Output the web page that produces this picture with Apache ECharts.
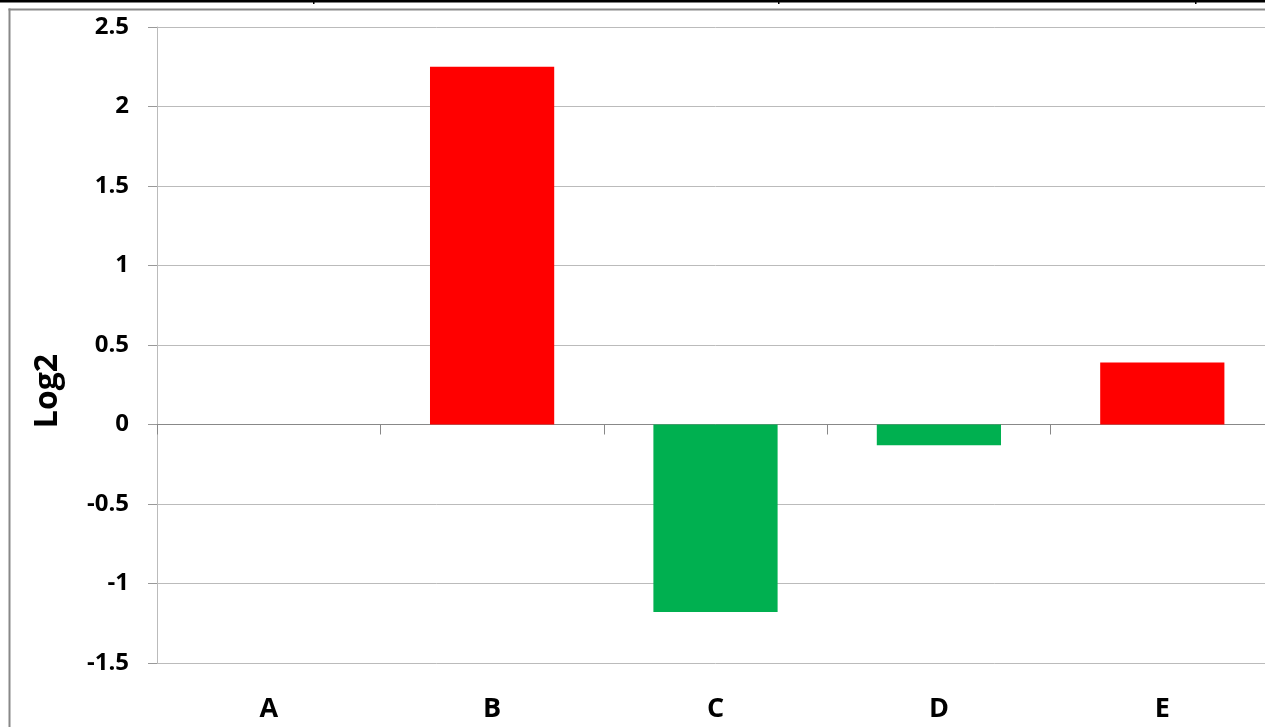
<!DOCTYPE html>
<html>
<head>
<meta charset="utf-8">
<script src="https://cdn.jsdelivr.net/npm/echarts@6/dist/echarts.min.js"></script>
<style>
html,body{margin:0;padding:0;background:#fff;overflow:hidden;width:1265px;height:727px;}
#chart{width:1280px;height:727px;}
</style>
</head>
<body>
<div id="chart"></div>
<script>
const categories = ['A', 'B', 'C', 'D', 'E'];
const log2Values = [0, 2.25, -1.18, -0.13, 0.39];
const yAxisName = 'Log2';

const chart = echarts.init(document.getElementById('chart'), null, {renderer: 'canvas'});
const FONT = '"Open Sans", "Liberation Sans", sans-serif';

chart.setOption({
  animation: false,
  backgroundColor: '#fff',
  graphic: [
    {type: 'rect', shape: {x: 0, y: 0, width: 1280, height: 2.5}, style: {fill: '#000'}, silent: true},
    {type: 'rect', shape: {x: 313, y: 0, width: 1.5, height: 4}, style: {fill: '#000'}, silent: true},
    {type: 'rect', shape: {x: 778, y: 0, width: 1.5, height: 4}, style: {fill: '#000'}, silent: true},
    {type: 'rect', shape: {x: 1195, y: 0, width: 1.5, height: 4}, style: {fill: '#000'}, silent: true},
    {type: 'rect', shape: {x: 8.5, y: 8.5, width: 1280, height: 2}, style: {fill: '#888'}, silent: true},
    {type: 'rect', shape: {x: 8.5, y: 8.5, width: 2, height: 730}, style: {fill: '#888'}, silent: true},
    {
      type: 'text', x: 48, y: 391, rotation: Math.PI / 2, silent: true,
      style: {text: yAxisName, fill: '#000', font: 'bold 32px ' + FONT, align: 'center', verticalAlign: 'middle'}
    }
  ],
  grid: {left: 157, top: 27, width: 1117, height: 636, containLabel: false},
  xAxis: [
    {
      type: 'category',
      data: categories,
      axisLine: {onZero: true, lineStyle: {color: '#888', width: 1}},
      axisTick: {show: true, length: 10, lineStyle: {color: '#888'}},
      axisLabel: {show: false},
      splitLine: {show: false}
    },
    {
      type: 'category',
      data: categories,
      position: 'bottom',
      axisLine: {show: false, onZero: false},
      axisTick: {show: false},
      axisLabel: {show: true, margin: 33, color: '#000', fontFamily: FONT, fontWeight: 'bold', fontSize: 27},
      splitLine: {show: false}
    }
  ],
  yAxis: {
    type: 'value',
    min: -1.5,
    max: 2.5,
    interval: 0.5,
    axisLine: {show: true, lineStyle: {color: '#bbb'}},
    axisTick: {show: true, length: 9, lineStyle: {color: '#999'}},
    axisLabel: {margin: 28, color: '#000', fontFamily: FONT, fontWeight: 'bold', fontSize: 24},
    splitLine: {show: true, lineStyle: {color: '#bbb', width: 1}}
  },
  series: [{
    type: 'bar',
    xAxisIndex: 0,
    data: log2Values,
    barWidth: '55.6%',
    itemStyle: {
      color: function (p) { return p.value >= 0 ? '#FF0000' : '#00B050'; }
    }
  }]
});
</script>
</body>
</html>
